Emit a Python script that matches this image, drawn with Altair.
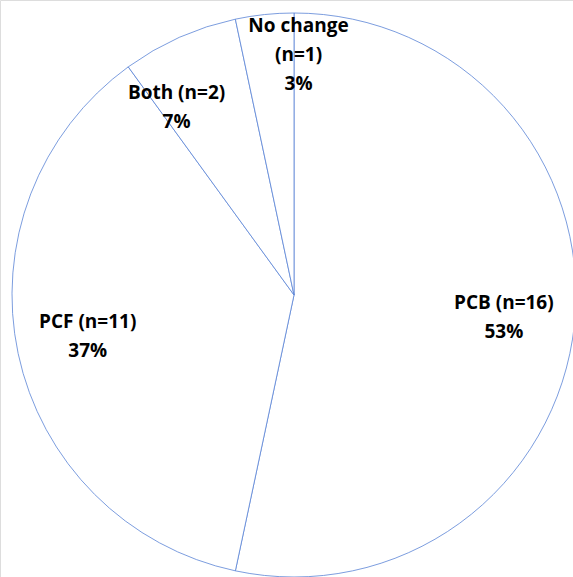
import altair as alt
import pandas as pd

# Outcome categories and counts (out of 30)
categories = ["PCB", "PCF", "Both", "No change"]
counts = [16, 11, 2, 1]
label_lines = [
    ["PCB (n=16)", "53%"],
    ["PCF (n=11)", "37%"],
    ["Both (n=2)", "7%"],
    ["No change", "(n=1)", "3%"],
]

df = pd.DataFrame({
    "category": categories,
    "count": counts,
    "label": label_lines,
    "order": list(range(len(categories))),
})

CX, CY, R = 294, 295, 282
LABEL_R = 215
FONT = "Open Sans"

base = alt.Chart(df).encode(
    theta=alt.Theta("count:Q", stack=True),
    order=alt.Order("order:Q"),
    x=alt.value(CX),
    y=alt.value(CY),
)

pie = base.mark_arc(fill="white", stroke="#5b84d6", strokeWidth=0.8, radius=R)

text_style = dict(font=FONT, fontWeight="bold", fontSize=19, color="black",
                  lineHeight=29, align="center", baseline="middle")

# label nudges (dx, dy) relative to the slice midpoint at LABEL_R
nudges = {
    "PCB": (-4, -14),
    "PCF": (4, -18),
    "Both": (-30, -6),
    "No change": (27, -55),
}

label_layers = []
for cat, (ddx, ddy) in nudges.items():
    layer = base.mark_text(radius=LABEL_R, dx=ddx, dy=ddy, **text_style).encode(
        text=alt.condition(f"datum.category == '{cat}'",
                           alt.Text("label:N"), alt.value(""))
    )
    label_layers.append(layer)

chart = alt.layer(pie, *label_layers).properties(
    width=573, height=577, padding=0, autosize=alt.AutoSizeParams(type="none")
).configure_view(stroke=None).configure(background="white")

chart.save("out.html", embed_options={"renderer": "svg", "actions": False})
